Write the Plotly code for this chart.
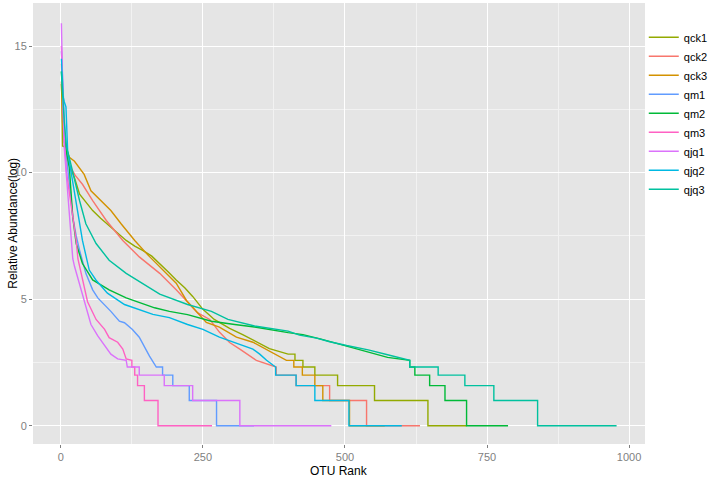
import plotly.graph_objects as go

# OTU rank vs log2 relative abundance, one curve per sample
samples = ["qck1", "qck2", "qck3", "qm1", "qm2", "qm3", "qjq1", "qjq2", "qjq3"]
colors = ["#93AA00", "#F8766D", "#D39200", "#619CFF", "#00BA38",
          "#FF61C3", "#DB72FB", "#00B9E3", "#00C19F"]

qck1_rank = [1, 2, 3, 9, 15, 24, 33, 45, 56, 70, 85, 100, 115, 130, 144, 160, 174, 190, 203,
             218, 232, 250, 270, 297, 320, 341, 367, 400, 412, 412, 426, 426, 447, 447, 487, 487,
             552, 552, 646, 646, 714]
qck1_log = [13.5, 12.8, 11.05, 11.0, 10.3, 9.8, 9.15, 8.8, 8.5, 8.2, 7.91, 7.6, 7.32, 7.1, 6.93,
            6.7, 6.41, 6.05, 5.76, 5.45, 5.11, 4.6, 4.2, 3.85, 3.6, 3.35, 3.05, 2.83, 2.83, 2.585,
            2.585, 2.32, 2.32, 2.0, 2.0, 1.585, 1.585, 1.0, 1.0, 0, 0]

qck2_rank = [1, 2, 4, 8, 15, 25, 38, 56, 80, 109, 138, 174, 203, 241, 262, 279, 297, 315, 344,
             379, 379, 414, 414, 473, 473, 538, 538, 632]
qck2_log = [14.3, 13.2, 12.0, 11.0, 10.3, 9.9, 9.54, 8.89, 8.11, 7.32, 6.67, 6.02, 5.37, 4.46,
            4.2, 3.7, 3.29, 3.03, 2.585, 2.32, 2.0, 2.0, 1.585, 1.585, 1.0, 1.0, 0, 0]

qck3_rank = [1, 3, 6, 15, 24, 41, 53, 65, 88, 106, 130, 153, 174, 203, 221, 256, 279, 309, 338,
             367, 380, 397, 410, 410, 425, 425, 447, 447, 461, 461, 508, 508, 570]
qck3_log = [13.6, 12.0, 11.2, 10.6, 10.45, 9.93, 9.28, 9.02, 8.5, 7.98, 7.32, 6.75, 6.28, 5.63,
            4.95, 4.08, 3.9, 3.5, 3.3, 2.95, 2.807, 2.585, 2.585, 2.32, 2.32, 2.0, 2.0, 1.585,
            1.585, 1.0, 1.0, 0, 0]

qm1_rank = [1, 3, 6, 9, 15, 21, 27, 33, 44, 56, 65, 88, 103, 112, 126, 138, 156, 168, 168, 179,
            179, 197, 197, 226, 226, 274, 274, 340]
qm1_log = [14.8, 13.6, 12.2, 10.84, 9.4, 8.24, 7.5, 6.93, 6.02, 5.37, 5.05, 4.52, 4.13, 4.07,
           3.8, 3.5, 2.75, 2.36, 2.32, 2.32, 2.0, 2.0, 1.585, 1.585, 1.0, 1.0, 0, 0]

qm2_rank = [1, 3, 6, 10, 15, 21, 27, 38, 56, 85, 115, 165, 191, 223, 265, 306, 341, 400, 426,
            458, 500, 541, 575, 614, 614, 623, 623, 649, 649, 676, 676, 714, 714, 787]
qm2_log = [14.0, 12.8, 11.5, 10.8, 10.19, 8.24, 7.2, 6.41, 5.76, 5.37, 5.05, 4.66, 4.52, 4.39,
           4.13, 4.0, 3.9, 3.68, 3.6, 3.42, 3.16, 2.9, 2.7, 2.585, 2.32, 2.32, 2.0, 2.0, 1.585,
           1.585, 1.0, 1.0, 0, 0]

qm3_rank = [1, 2, 4, 7, 10, 15, 21, 27, 30, 36, 47, 62, 77, 85, 100, 109, 115, 125, 125, 130,
            130, 135, 135, 147, 147, 171, 171, 266]
qm3_log = [15.0, 14.0, 12.5, 11.0, 10.0, 9.2, 8.24, 7.32, 6.6, 6.0, 4.9, 4.2, 3.81, 3.48, 3.3,
           3.03, 2.64, 2.585, 2.32, 2.32, 2.0, 2.0, 1.585, 1.585, 1.0, 1.0, 0, 0]

qjq1_rank = [1, 2, 4, 6, 10, 15, 18, 21, 24, 33, 44, 53, 65, 77, 88, 100, 115, 117, 138, 138,
             182, 182, 232, 232, 315, 315, 476]
qjq1_log = [15.9, 14.5, 12.5, 11.0, 9.8, 8.24, 7.3, 6.6, 6.3, 5.6, 4.8, 4.0, 3.55, 3.16, 2.83,
            2.64, 2.585, 2.32, 2.32, 2.0, 2.0, 1.585, 1.585, 1.0, 1.0, 0, 0]

qjq2_rank = [1, 4, 6, 9, 12, 27, 38, 50, 62, 82, 112, 162, 191, 223, 250, 279, 306, 338, 350,
             362, 362, 378, 378, 414, 414, 447, 447, 507, 507, 600]
qjq2_log = [14.5, 13.0, 12.8, 12.6, 10.84, 8.89, 7.32, 6.15, 5.75, 5.24, 4.79, 4.4, 4.27, 4.0,
            3.81, 3.5, 3.29, 3.03, 2.83, 2.585, 2.585, 2.32, 2.0, 2.0, 1.585, 1.585, 1.0, 1.0, 0, 0]

qjq3_rank = [1, 3, 6, 10, 15, 33, 44, 62, 85, 115, 144, 174, 223, 265, 294, 341, 400, 420, 450,
             473, 503, 541, 575, 614, 614, 664, 664, 711, 711, 762, 762, 839, 839, 978]
qjq3_log = [14.0, 13.0, 12.0, 11.0, 10.58, 8.89, 7.98, 7.2, 6.54, 6.02, 5.63, 5.2, 4.79, 4.52,
            4.2, 3.94, 3.74, 3.58, 3.46, 3.32, 3.17, 3.0, 2.807, 2.585, 2.32, 2.32, 2.0, 2.0,
            1.585, 1.585, 1.0, 1.0, 0, 0]

data = {
    "qck1": (qck1_rank, qck1_log), "qck2": (qck2_rank, qck2_log), "qck3": (qck3_rank, qck3_log),
    "qm1": (qm1_rank, qm1_log), "qm2": (qm2_rank, qm2_log), "qm3": (qm3_rank, qm3_log),
    "qjq1": (qjq1_rank, qjq1_log), "qjq2": (qjq2_rank, qjq2_log), "qjq3": (qjq3_rank, qjq3_log),
}

fig = go.Figure()
for name, col in zip(samples, colors):
    x, y = data[name]
    fig.add_trace(go.Scatter(x=x, y=y, name=name, mode="lines",
                             line=dict(color=col, width=1.4)))

axis_common = dict(
    showgrid=True, gridcolor="white", gridwidth=1.1,
    zeroline=False, showline=False, automargin=False,
    ticks="outside", ticklen=3, tickcolor="#7F7F7F",
    tickfont=dict(size=11, color="#7F7F7F"),
)

fig.update_layout(
    width=708, height=477,
    margin=dict(l=33, r=63, t=3, b=33, autoexpand=False),
    paper_bgcolor="white",
    plot_bgcolor="#E5E5E5",
    font=dict(family="Liberation Sans, Arial, sans-serif", color="black"),
    xaxis=dict(range=[-49, 1028], tickvals=[0, 250, 500, 750, 1000],
               minor=dict(showgrid=True, gridcolor="#F2F2F2", tickvals=[125, 375, 625, 875], ticks=""),
               **axis_common),
    yaxis=dict(range=[-0.72, 16.7], tickvals=[0, 5, 10, 15],
               minor=dict(showgrid=True, gridcolor="#F2F2F2", tickvals=[2.5, 7.5, 12.5], ticks=""),
               **axis_common),
    legend=dict(x=0.998, y=0.75, xanchor="left", yanchor="middle",
                font=dict(size=11), tracegroupgap=0, itemwidth=30,
                bgcolor="rgba(0,0,0,0)"),
)

# axis titles placed as annotations to sit close to the tick labels (ggplot look)
fig.add_annotation(text="OTU Rank", xref="paper", yref="paper", x=0.5, y=-0.061,
                   xanchor="center", yanchor="middle", showarrow=False,
                   font=dict(size=12, color="black"))
fig.add_annotation(text="Relative Abundance(log)", xref="paper", yref="paper", x=-0.034, y=0.5,
                   xanchor="center", yanchor="middle", textangle=-90, showarrow=False,
                   font=dict(size=12, color="black"))

# page body has a default 8px margin; drop it so the figure fills the window
fig.write_html("out.html", config={"displayModeBar": False},
               post_script="document.body.style.margin='0';")
